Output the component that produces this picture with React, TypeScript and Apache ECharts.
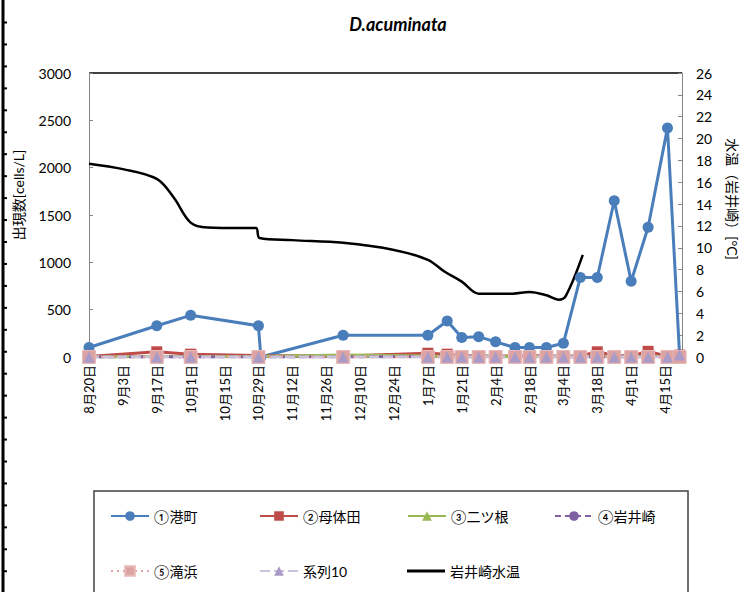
import React, { useEffect, useRef } from "react";
import * as echarts from "echarts";

// day offsets from 8月20日
const tickDaysMax = 245;
const minatoDays = [0, 28, 42, 70, 71, 105, 140, 148, 154, 161, 168, 176, 182, 189, 196, 203, 210, 217, 224, 231, 239, 244];
const minatoValues = [100, 330, 440, 330, 0, 230, 230, 380, 205, 215, 160, 100, 100, 100, 145, 840, 840, 1650, 800, 1370, 2420, 20];

const otherDays = [0, 28, 42, 70, 105, 140, 148, 154, 161, 168, 176, 182, 189, 196, 203, 210, 217, 224, 231, 239, 244];
const botedaValues = [5, 55, 30, 15, 10, 40, 30, 15, 10, 10, 10, 15, 10, 10, 10, 55, 15, 10, 60, 5, 20];
const futatsuneValues = [0, 5, 5, 5, 20, 10, 5, 5, 5, 5, 5, 5, 5, 5, 5, 5, 5, 5, 5, 5, 10];
const iwaisakiValues = [0, 0, 0, 0, 0, 5, 0, 0, 0, 0, 0, 0, 0, 0, 0, 0, 0, 0, 0, 0, 0];
const takihamaValues = [0, 0, 0, 0, 0, 0, 0, 0, 0, 0, 0, 0, 0, 0, 0, 0, 0, 0, 0, 0, 0];
const series10Values = [0, 0, 0, 0, 0, 0, 0, 0, 0, 0, 0, 0, 0, 0, 0, 0, 0, 0, 0, 0, 20];

const tempDays = [0, 14, 28, 35, 42, 49, 63, 69, 70.5, 84, 105, 126, 140, 147, 154, 161, 175, 182, 189, 194, 197, 204];
const tempValues = [17.7, 17.2, 16.3, 14.6, 12.3, 11.85, 11.8, 11.8, 10.9, 10.7, 10.45, 9.8, 8.9, 7.8, 6.9, 5.8, 5.8, 5.95, 5.65, 5.25, 5.6, 9.35];

const names = ["①港町", "②母体田", "③二ツ根", "④岩井崎", "⑤滝浜", "系列10", "岩井崎水温"];

const FONT = "Lato, 'Noto Sans CJK JP', sans-serif";

const pair = (d: number[], v: number[]) => d.map((x, i) => [x, v[i]]);

export default function App() {
  const ref = useRef<HTMLDivElement>(null);
  useEffect(() => {
    const chart = echarts.init(ref.current!, undefined, { renderer: "svg" });
    const legendPos = [
      [105, 504], [254, 504], [402, 504], [549, 504],
      [105, 559], [254, 559], [402, 559],
    ];
    const leftTicks: any[] = [];
    for (let k = 0; k < 27; k++) {
      const y = 22.5 + 21.95 * k;
      if (y > 592) break;
      leftTicks.push({
        type: "line",
        shape: { x1: 2, y1: y, x2: 7, y2: y },
        style: { stroke: "#000", lineWidth: 2 },
      });
    }
    chart.setOption({
      animation: false,
      backgroundColor: "#fff",
      title: {
        text: "D.acuminata",
        left: 393,
        textAlign: "center",
        top: 10,
        textStyle: { fontSize: 18, fontWeight: "bold", fontStyle: "italic", fontFamily: FONT, color: "#000" },
      },
      grid: { left: 89, right: 68, top: 73, bottom: 235 },
      legend: names.map((n, i) => ({
        data: [n],
        left: legendPos[i][0],
        top: legendPos[i][1],
        itemWidth: 38,
        itemHeight: i === 6 ? 3 : 12,
        icon: i === 6 ? "rect" : undefined,
        textStyle: { fontSize: 14, fontFamily: FONT, color: "#000" },
      })),
      xAxis: {
        type: "value",
        min: 0,
        max: tickDaysMax,
        interval: 14,
        splitLine: { show: false },
        axisLine: { lineStyle: { color: "#868686" } },
        axisTick: { show: false },
        axisLabel: {
          rotate: 90,
          margin: 8,
          fontSize: 13,
          fontFamily: FONT,
          color: "#000",
          showMaxLabel: false,
          formatter: (v: number) => {
            const d = new Date(2012, 7, 20 + v);
            return `${d.getMonth() + 1}月${d.getDate()}日`;
          },
        },
      },
      yAxis: [
        {
          type: "value",
          min: 0,
          max: 3000,
          interval: 500,
          splitLine: { show: false },
          axisLine: { show: true, lineStyle: { color: "#868686" } },
          axisTick: { show: true, inside: true, length: 4, lineStyle: { color: "#868686" } },
          axisLabel: { fontSize: 14, fontFamily: FONT, color: "#000", margin: 18, formatter: (v: number) => String(v) },
        },
        {
          type: "value",
          min: 0,
          max: 26,
          interval: 2,
          position: "right",
          splitLine: { show: false },
          axisLine: { show: true, lineStyle: { color: "#868686" } },
          axisTick: { show: true, inside: true, length: 4, lineStyle: { color: "#868686" } },
          axisLabel: { fontSize: 14, fontFamily: FONT, color: "#000", margin: 14, formatter: (v: number) => String(v) },
        },
      ],
      graphic: [
        { type: "line", shape: { x1: 89, y1: 73, x2: 682, y2: 73 }, style: { stroke: "#000", lineWidth: 1.5 } },
        { type: "line", shape: { x1: 3, y1: 0, x2: 3, y2: 592 }, style: { stroke: "#000", lineWidth: 3 } },
        ...leftTicks,
        {
          type: "rect",
          shape: { x: 94, y: 491, width: 594, height: 120 },
          style: { fill: "none", stroke: "#404040", lineWidth: 1.5 },
          z: -1,
        },
        {
          type: "text",
          x: 18,
          y: 195,
          rotation: Math.PI / 2,
          style: { text: "出現数[cells/L]", fontSize: 14, fontFamily: FONT, fill: "#000", align: "center", verticalAlign: "middle" },
        },
        {
          type: "text",
          x: 732,
          y: 199,
          rotation: -Math.PI / 2,
          style: { text: "水温（岩井崎）[°C]", fontSize: 14, fontFamily: FONT, fill: "#000", align: "center", verticalAlign: "middle" },
        },
      ],
      series: [
        {
          name: names[0],
          type: "line",
          data: pair(minatoDays, minatoValues),
          symbol: "circle",
          symbolSize: 11,
          lineStyle: { width: 3, color: "#4A7EBB" },
          itemStyle: { color: "#4A7EBB" },
        },
        {
          name: names[1],
          type: "line",
          data: pair(otherDays, botedaValues),
          symbol: "rect",
          symbolSize: 11,
          lineStyle: { width: 3, color: "#BE4B48" },
          itemStyle: { color: "#BE4B48" },
        },
        {
          name: names[2],
          type: "line",
          data: pair(otherDays, futatsuneValues),
          symbol: "triangle",
          symbolSize: 8,
          lineStyle: { width: 3, color: "#98B954" },
          itemStyle: { color: "#98B954" },
        },
        {
          name: names[3],
          type: "line",
          data: pair(otherDays, iwaisakiValues),
          symbol: "circle",
          symbolSize: 8,
          lineStyle: { width: 3, color: "#7D60A0", type: [6, 4] },
          itemStyle: { color: "#7D60A0" },
        },
        {
          name: names[4],
          type: "line",
          data: pair(otherDays, takihamaValues),
          symbol: "rect",
          symbolSize: 13,
          lineStyle: { width: 3, color: "#E6A5A5", type: [2, 4] },
          itemStyle: { color: "#DDA3A3", borderColor: "#E6B9B8", borderWidth: 1 },
        },
        {
          name: names[5],
          type: "line",
          data: pair(otherDays, series10Values),
          symbol: "triangle",
          symbolSize: 11,
          lineStyle: { width: 3, color: "#CCC1DA", type: [10, 4] },
          itemStyle: { color: "#A99BC8" },
        },
        {
          name: names[6],
          type: "line",
          yAxisIndex: 1,
          data: pair(tempDays, tempValues),
          symbol: "none",
          smooth: 0.35,
          lineStyle: { width: 2.5, color: "#000" },
          itemStyle: { color: "#000" },
        },
      ],
    });
    return () => chart.dispose();
  }, []);
  return <div ref={ref} style={{ width: 750, height: 592, position: "absolute", left: 0, top: 0 }} />;
}
